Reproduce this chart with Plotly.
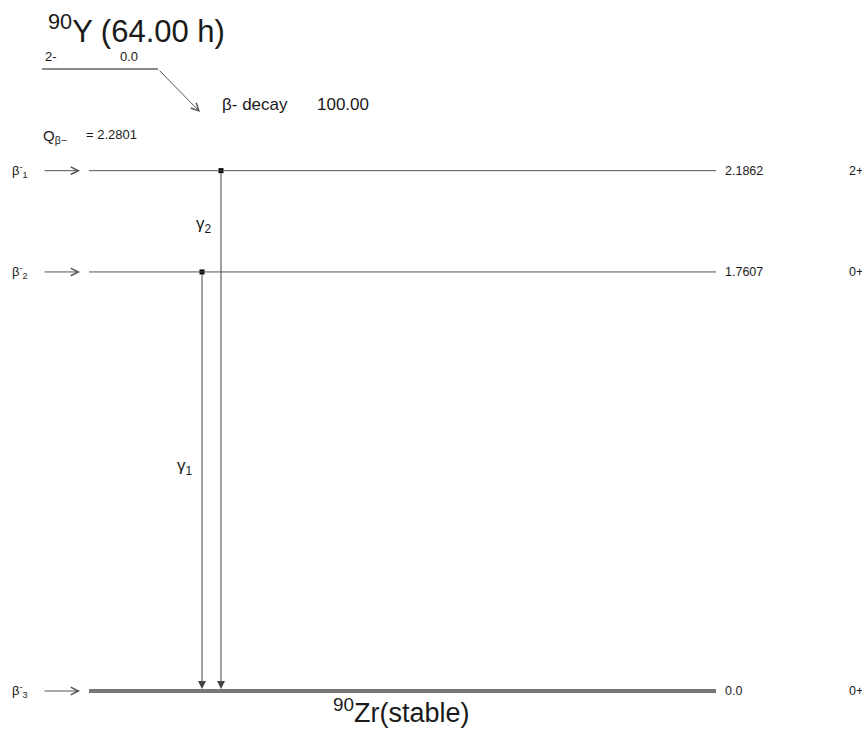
import plotly.graph_objects as go

# ---------------- data ----------------
parent_name = "<sup>90</sup>Y (64.00 h)"
parent_spin = "2-"
parent_energy_label = "0.0"
decay_mode = "β- decay"
branching = "100.00"
q_value = 2.2801
daughter_name = "<sup>90</sup>Zr(stable)"

level_energies = [2.1862, 1.7607, 0.0]
level_labels = ["2.1862", "1.7607", "0.0"]
level_spins = ["2+", "0+", "0+"]
beta_labels = ["β<sup>-</sup><sub>1</sub>", "β<sup>-</sup><sub>2</sub>", "β<sup>-</sup><sub>3</sub>"]

gamma_from = [1.7607, 2.1862]
gamma_to = [0.0, 0.0]
gamma_labels = ["γ<sub>1</sub>", "γ<sub>2</sub>"]

# ---------------- layout helpers ----------------
W, H = 862, 731
PX_PER_E = 238.0
Y0_PX = 691.0


def e_from_px(py):
    return (Y0_PX - py) / PX_PER_E


def px_from_e(e):
    return Y0_PX - PX_PER_E * e


FONT = "Liberation Sans, Arial, sans-serif"
LINE_COL = "#555555"
TXT = "#1a1a1a"

fig = go.Figure()
shapes = []
ann = []

LX0, LX1 = 89, 716
gamma_x = [202, 221]

# levels
for i, e in enumerate(level_energies):
    ground = (e == 0.0)
    shapes.append(dict(type="line", xref="x", yref="y", x0=LX0, x1=LX1, y0=e, y1=e,
                       line=dict(color="#777777" if ground else LINE_COL, width=4 if ground else 1)))
    ann.append(dict(x=723, y=e, text=level_labels[i], showarrow=False, xanchor="left", yanchor="middle",
                    font=dict(size=12.5, color=TXT, family=FONT)))
    ann.append(dict(x=847, y=e, text=level_spins[i], showarrow=False, xanchor="left", yanchor="middle",
                    font=dict(size=12.5, color=TXT, family=FONT)))
    ann.append(dict(x=10, y=e, text=beta_labels[i], showarrow=False, xanchor="left", yanchor="middle",
                    font=dict(size=13, color=TXT, family=FONT)))
    # beta feeding arrow
    ann.append(dict(x=80, y=e, ax=43, ay=e, axref="x", ayref="y", xref="x", yref="y", text="",
                    showarrow=True, arrowhead=5, arrowsize=1.5, arrowwidth=1, arrowcolor=LINE_COL))

# gammas
sorted_levels = sorted(level_energies)
for i, (ef, et) in enumerate(zip(gamma_from, gamma_to)):
    gx = gamma_x[i]
    ann.append(dict(x=gx, y=et, ax=gx, ay=ef, axref="x", ayref="y", xref="x", yref="y", text="",
                    showarrow=True, arrowhead=2, arrowsize=1.6, arrowwidth=1, arrowcolor="#444444",
                    standoff=2))
    below = max(l for l in sorted_levels if l < ef)
    mid_px = (px_from_e(ef) + px_from_e(below)) / 2
    ann.append(dict(x=gx - 7, y=e_from_px(mid_px + (-14 if i == 0 else 4)), text=gamma_labels[i],
                    showarrow=False, xanchor="right", yanchor="middle",
                    font=dict(size=17, color=TXT, family=FONT)))

fig.add_trace(go.Scatter(x=gamma_x, y=gamma_from, mode="markers",
                         marker=dict(symbol="square", size=5, color="black"),
                         hoverinfo="skip", showlegend=False))

# parent level
py_parent = 69
shapes.append(dict(type="line", xref="x", yref="y", x0=42, x1=158, y0=e_from_px(py_parent),
                   y1=e_from_px(py_parent), line=dict(color="#8a8a8a", width=2)))
ann.append(dict(x=200, y=e_from_px(112), ax=158, ay=e_from_px(py_parent), axref="x", ayref="y",
                xref="x", yref="y", text="", showarrow=True, arrowhead=5, arrowsize=1.5,
                arrowwidth=1, arrowcolor=LINE_COL))
ann.append(dict(x=46, y=e_from_px(29), text=parent_name, showarrow=False, xanchor="left",
                yanchor="middle", font=dict(size=31, color=TXT, family=FONT)))
ann.append(dict(x=43, y=e_from_px(56), text=parent_spin, showarrow=False, xanchor="left",
                yanchor="middle", font=dict(size=13, color=TXT, family=FONT)))
ann.append(dict(x=118, y=e_from_px(56), text=parent_energy_label, showarrow=False, xanchor="left",
                yanchor="middle", font=dict(size=13, color=TXT, family=FONT)))
ann.append(dict(x=220, y=e_from_px(104), text=decay_mode,
                showarrow=False, xanchor="left", yanchor="middle",
                font=dict(size=17, color=TXT, family=FONT)))
ann.append(dict(x=315, y=e_from_px(104), text=branching,
                showarrow=False, xanchor="left", yanchor="middle",
                font=dict(size=17, color=TXT, family=FONT)))
ann.append(dict(x=41, y=e_from_px(136), text="Q<sub>β−</sub>", showarrow=False,
                xanchor="left", yanchor="middle", font=dict(size=15, color=TXT, family=FONT)))
ann.append(dict(x=84, y=e_from_px(134), text="= %.4f" % q_value, showarrow=False,
                xanchor="left", yanchor="middle", font=dict(size=13, color=TXT, family=FONT)))
ann.append(dict(x=401, y=e_from_px(711), text=daughter_name, showarrow=False, xanchor="center",
                yanchor="middle", font=dict(size=27, color=TXT, family=FONT)))

for a in ann:
    a.setdefault("xref", "x")
    a.setdefault("yref", "y")

fig.update_layout(
    width=W, height=H, margin=dict(l=0, r=0, t=0, b=0),
    paper_bgcolor="white", plot_bgcolor="white",
    xaxis=dict(range=[0, W], visible=False, fixedrange=True),
    yaxis=dict(range=[e_from_px(H), e_from_px(0)], visible=False, fixedrange=True),
    shapes=shapes, annotations=ann, showlegend=False,
)

fig.write_html("out.html")
